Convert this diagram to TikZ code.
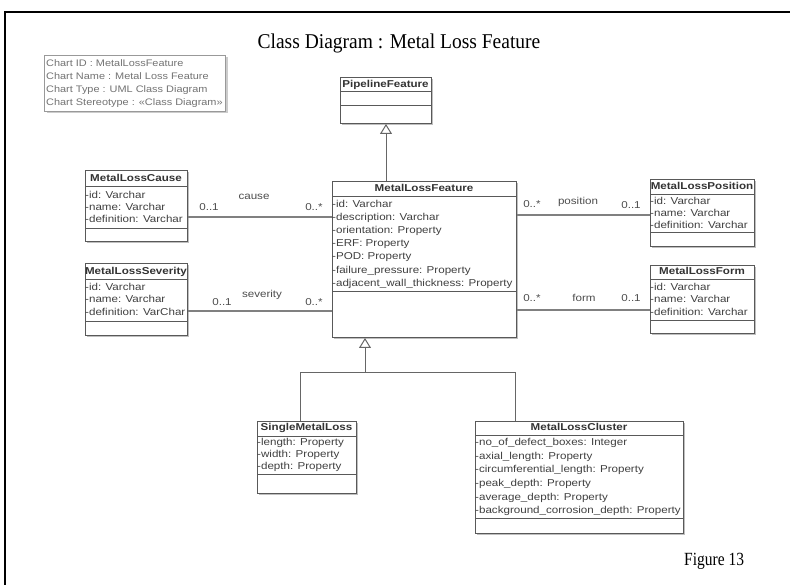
\documentclass[tikz,border=0pt]{standalone}
\usepackage{fontspec}
\setmainfont{Liberation Serif}
\setsansfont{Liberation Sans}
\usetikzlibrary{arrows.meta,shadows}
\newcommand\wide[1]{\scalebox{1.16}[1]{#1}}
\tikzset{
  cls/.style={draw=black!65, line width=1pt, fill=white, inner sep=0pt, anchor=north west,
    drop shadow={shadow xshift=1.5pt, shadow yshift=-1.5pt, fill=black!25, opacity=1}},
  infobox/.style={draw=black!40, line width=1pt, fill=white, inner sep=0pt, anchor=north west,
    drop shadow={shadow xshift=2pt, shadow yshift=-2pt, fill=black!20, opacity=1}},
  csep/.style={draw=black!65, line width=1pt},
  ctitle/.style={font=\sffamily\bfseries\fontsize{10}{12}\selectfont, text=black!80, inner sep=0pt, text height=7.5pt, text depth=2pt},
  attr/.style={font=\sffamily\fontsize{10}{12}\selectfont, text=black!75, inner sep=0pt, anchor=west, text height=7.5pt, text depth=2pt},
  infotxt/.style={font=\sffamily\fontsize{9.5}{11}\selectfont, text=black!55, inner sep=0pt, anchor=west, text height=7pt, text depth=2pt},
  lbl/.style={font=\sffamily\fontsize{10}{12}\selectfont, text=black!70, inner sep=0pt},
  assoc/.style={draw=black!50, line width=1.5pt},
  genline/.style={draw=black!60, line width=1pt},
  gen/.style={draw=black!60, line width=1pt, -{Triangle[open, length=10pt, width=12pt, fill=white]}}
}
\begin{document}
\begin{tikzpicture}[x=1pt,y=-1pt]
\useasboundingbox (0,0) rectangle (790,585);
% frame
\draw[line width=2.5pt, black] (5,585) -- (5,12) -- (790,12);
% title
\node[font=\fontsize{19.5}{22}\selectfont, inner sep=0pt] (title) at (399,43) {\scalebox{1}[1.08]{Class Diagram : Metal Loss Feature}};
\node[font=\fontsize{15.5}{18}\selectfont, inner sep=0pt, anchor=west] (fig) at (684,561) {\scalebox{1}[1.2]{Figure 13}};

% info box
\node[infobox, minimum width=181pt, minimum height=56pt] (info) at (44,55) {};
\node[infotxt] (i1) at (46,64) {\scalebox{1.15}[1]{Chart ID : MetalLossFeature}};
\node[infotxt] (i2) at (46,77) {\scalebox{1.15}[1]{Chart Name : Metal Loss Feature}};
\node[infotxt] (i3) at (46,90) {\scalebox{1.15}[1]{Chart Type : UML Class Diagram}};
\node[infotxt] (i4) at (46,103) {\scalebox{1.15}[1]{Chart Stereotype : «Class Diagram»}};

% PipelineFeature
\node[cls, minimum width=91pt, minimum height=46pt] (pipe) at (340,77) {};
\node[ctitle] (pipet) at (385.5,85) {\wide{PipelineFeature}};
\draw[csep] (340,92) -- (431,92);
\draw[csep] (340,106) -- (431,106);

% MetalLossFeature
\node[cls, minimum width=184pt, minimum height=156pt] (feature) at (332,181) {};
\node[ctitle] (featuret) at (424,189) {\wide{MetalLossFeature}};
\draw[csep] (332,197) -- (516,197);
\node[attr] (f1) at (332,205) {\wide{-id: Varchar}};
\node[attr] (f2) at (332,218) {\wide{-description: Varchar}};
\node[attr] (f3) at (332,231) {\wide{-orientation: Property}};
\node[attr] (f4) at (332,244) {\wide{-ERF: Property}};
\node[attr] (f5) at (332,257) {\wide{-POD: Property}};
\node[attr] (f6) at (332,271) {\wide{-failure\_pressure: Property}};
\node[attr] (f7) at (332,284) {\wide{-adjacent\_wall\_thickness: Property}};
\draw[csep] (332,292) -- (516,292);

% MetalLossCause
\node[cls, minimum width=102pt, minimum height=71pt] (cause) at (85,170) {};
\node[ctitle] (causet) at (136,179) {\wide{MetalLossCause}};
\draw[csep] (85,187) -- (187,187);
\node[attr] (c1) at (85,196) {\wide{-id: Varchar}};
\node[attr] (c2) at (85,208) {\wide{-name: Varchar}};
\node[attr] (c3) at (85,220) {\wide{-definition: Varchar}};
\draw[csep] (85,229) -- (187,229);

% MetalLossSeverity
\node[cls, minimum width=102pt, minimum height=72pt] (severity) at (85,263) {};
\node[ctitle] (severityt) at (136,272) {\wide{MetalLossSeverity}};
\draw[csep] (85,280) -- (187,280);
\node[attr] (s1) at (85,288) {\wide{-id: Varchar}};
\node[attr] (s2) at (85,300) {\wide{-name: Varchar}};
\node[attr] (s3) at (85,313) {\wide{-definition: VarChar}};
\draw[csep] (85,322) -- (187,322);

% MetalLossPosition
\node[cls, minimum width=104pt, minimum height=67pt] (position) at (650,179) {};
\node[ctitle] (positiont) at (702,187) {\wide{MetalLossPosition}};
\draw[csep] (650,195) -- (754,195);
\node[attr] (p1) at (650,202) {\wide{-id: Varchar}};
\node[attr] (p2) at (650,214) {\wide{-name: Varchar}};
\node[attr] (p3) at (650,226) {\wide{-definition: Varchar}};
\draw[csep] (650,233) -- (754,233);

% MetalLossForm
\node[cls, minimum width=104pt, minimum height=68pt] (form) at (650,265) {};
\node[ctitle] (formt) at (702,272) {\wide{MetalLossForm}};
\draw[csep] (650,280) -- (754,280);
\node[attr] (m1) at (650,288) {\wide{-id: Varchar}};
\node[attr] (m2) at (650,300) {\wide{-name: Varchar}};
\node[attr] (m3) at (650,313) {\wide{-definition: Varchar}};
\draw[csep] (650,321) -- (754,321);

% SingleMetalLoss
\node[cls, minimum width=99pt, minimum height=72pt] (single) at (257,421) {};
\node[ctitle] (singlet) at (306.5,428) {\wide{SingleMetalLoss}};
\draw[csep] (257,436) -- (356,436);
\node[attr] (g1) at (257,443) {\wide{-length: Property}};
\node[attr] (g2) at (257,455) {\wide{-width: Property}};
\node[attr] (g3) at (257,467) {\wide{-depth: Property}};
\draw[csep] (257,474) -- (356,474);

% MetalLossCluster
\node[cls, minimum width=208pt, minimum height=112pt] (cluster) at (475,421) {};
\node[ctitle] (clustert) at (579,428) {\wide{MetalLossCluster}};
\draw[csep] (475,435) -- (683,435);
\node[attr] (k1) at (475,443) {\wide{-no\_of\_defect\_boxes: Integer}};
\node[attr] (k2) at (475,457) {\wide{-axial\_length: Property}};
\node[attr] (k3) at (475,470) {\wide{-circumferential\_length: Property}};
\node[attr] (k4) at (475,484) {\wide{-peak\_depth: Property}};
\node[attr] (k5) at (475,498) {\wide{-average\_depth: Property}};
\node[attr] (k6) at (475,511) {\wide{-background\_corrosion\_depth: Property}};
\draw[csep] (475,518) -- (683,518);

% associations
\draw[assoc] (cause.east |- 0,217) -- (feature.west |- 0,217);
\draw[assoc] (severity.east |- 0,311) -- (feature.west |- 0,311);
\draw[assoc] (feature.east |- 0,215) -- (position.west |- 0,215);
\draw[assoc] (feature.east |- 0,310) -- (form.west |- 0,310);

\node[lbl] (l1) at (209,207) {\wide{0..1}};
\node[lbl] (l2) at (254,197) {\wide{cause}};
\node[lbl] (l3) at (314,207) {\wide{0..*}};
\node[lbl] (l4) at (222,302) {\wide{0..1}};
\node[lbl] (l5) at (262,295) {\wide{severity}};
\node[lbl] (l6) at (314,302) {\wide{0..*}};
\node[lbl] (l7) at (532,204) {\wide{0..*}};
\node[lbl] (l8) at (578,202) {\wide{position}};
\node[lbl] (l9) at (631,205) {\wide{0..1}};
\node[lbl] (l10) at (532,298) {\wide{0..*}};
\node[lbl] (l11) at (584,298) {\wide{form}};
\node[lbl] (l12) at (631,298) {\wide{0..1}};

% generalizations
\draw[gen] (feature.north -| pipe.south) -- (pipe.south);
\coordinate (bus) at (365,372);
\coordinate (busl) at (300,372);
\coordinate (busr) at (515,372);
\draw[genline] (single.north -| busl) -- (busl) -- (busr) -- (cluster.north -| busr);
\draw[gen] (bus) -- (feature.south -| bus);
\end{tikzpicture}
\end{document}
